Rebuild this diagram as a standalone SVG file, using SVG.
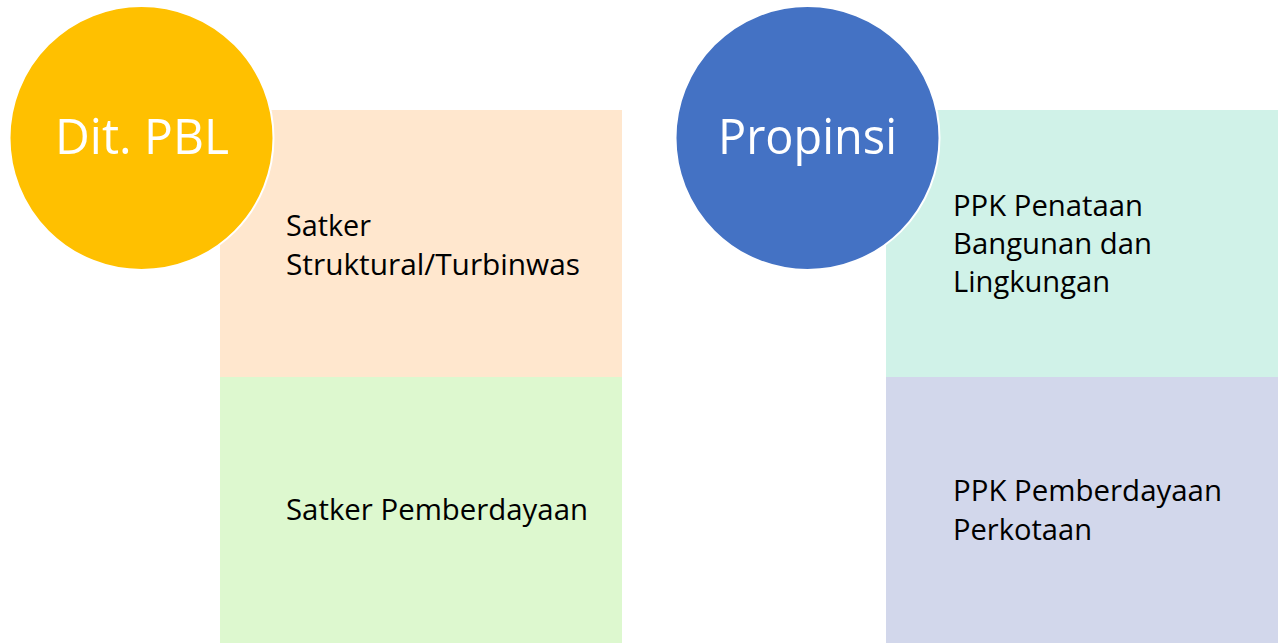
<svg xmlns="http://www.w3.org/2000/svg" width="1278" height="643" viewBox="0 0 1278 643">
<style>
.box{stroke:none}
.circ{stroke:#ffffff;stroke-width:2}
.lbl{font-family:"Open Sans","Liberation Sans",sans-serif;font-size:29px;fill:#000000}
.big{font-family:"Open Sans","Liberation Sans",sans-serif;font-size:50px;fill:#ffffff}
</style>
<rect width="1278" height="643" fill="#ffffff"/>
<g id="satker-struktural">
<rect class="box" x="220" y="110" width="402" height="267" fill="#FFE7CE"/>
<text class="lbl" x="286" y="236" textLength="85" lengthAdjust="spacingAndGlyphs">Satker</text>
<text class="lbl" x="286" y="275" textLength="294" lengthAdjust="spacingAndGlyphs">Struktural/Turbinwas</text>
</g>
<g id="satker-pemberdayaan">
<rect class="box" x="220" y="377" width="402" height="266" fill="#DDF8CF"/>
<text class="lbl" x="286" y="520" textLength="302" lengthAdjust="spacingAndGlyphs">Satker Pemberdayaan</text>
</g>
<g id="dit-pbl">
<circle class="circ" cx="141.5" cy="138" r="132" fill="#FFC000"/>
<text class="big" x="55" y="154" textLength="174" lengthAdjust="spacingAndGlyphs">Dit. PBL</text>
</g>
<g id="ppk-penataan">
<rect class="box" x="886" y="110" width="392" height="267" fill="#D0F2E8"/>
<text class="lbl" x="953" y="216" textLength="190" lengthAdjust="spacingAndGlyphs">PPK Penataan</text>
<text class="lbl" x="953" y="254" textLength="199" lengthAdjust="spacingAndGlyphs">Bangunan dan</text>
<text class="lbl" x="953" y="292" textLength="157" lengthAdjust="spacingAndGlyphs">Lingkungan</text>
</g>
<g id="ppk-pemberdayaan">
<rect class="box" x="886" y="377" width="392" height="266" fill="#D2D7EB"/>
<text class="lbl" x="953" y="501" textLength="269" lengthAdjust="spacingAndGlyphs">PPK Pemberdayaan</text>
<text class="lbl" x="953" y="540" textLength="139" lengthAdjust="spacingAndGlyphs">Perkotaan</text>
</g>
<g id="propinsi">
<circle class="circ" cx="807.5" cy="138" r="132" fill="#4472C4"/>
<text class="big" x="718" y="154" textLength="179" lengthAdjust="spacingAndGlyphs">Propinsi</text>
</g>
<g id="connectors"></g>
</svg>
